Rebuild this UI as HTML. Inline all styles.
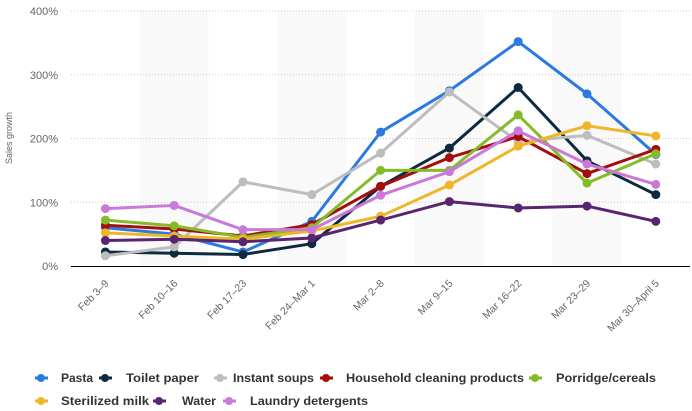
<!DOCTYPE html>
<html><head><meta charset="utf-8"><style>
html,body{margin:0;padding:0;background:#fff;}
svg{display:block;font-family:"Liberation Sans",sans-serif;}
</style></head><body>
<svg id="c" width="692" height="411" xmlns="http://www.w3.org/2000/svg"></svg>
<script>
const s=document.getElementById('c');
let h='';
const X0=71,BW=68.8,Y0=266,K=0.6375;
for(let i=1;i<9;i+=2)h+=`<rect x="${X0+i*BW}" y="11" width="${BW}" height="255" fill="#f9f9f9"/>`;
[0,100,200,300,400].forEach(v=>{const y=Y0-v*K;
 if(v>0)h+=`<line x1="71" x2="690" y1="${y}" y2="${y}" stroke="#ccc" stroke-dasharray="1,2"/>`;
 h+=`<text x="58" y="${y+4}" text-anchor="end" font-size="11" fill="#666">${v}%</text>`;});
h+=`<line x1="71" x2="690" y1="266.5" y2="266.5" stroke="#000" stroke-width="1"/>`;
h+=`<text transform="translate(12,138) rotate(-90)" text-anchor="middle" font-size="9" fill="#666">Sales growth</text>`;
const cats=["Feb 3-9","Feb 10-16","Feb 17-23","Feb 24-Mar 1","Mar 2-8","Mar 9-15","Mar 16-22","Mar 23-29","Mar 30-April 5"];
cats.forEach((c,i)=>{const x=X0+BW*(i+0.5)+4;h+=`<text transform="translate(${x},284) rotate(-45)" text-anchor="end" font-size="10.5" fill="#666">${c.replace('-','–')}</text>`;});
const S=[
["Pasta","#2a7ae2",[60,50,22,70,210,275,352,270,175]],
["Toilet paper","#0d2a3e",[22,20,18,35,125,185,280,165,112]],
["Instant soups","#bdbdbd",[16,30,132,112,177,273,195,205,160]],
["Household cleaning products","#a50d0d",[64,58,47,65,125,170,203,145,183]],
["Porridge/cereals","#83bb29",[72,63,45,60,150,150,237,130,176]],
["Sterilized milk","#f0b62a",[52,47,42,55,78,127,188,220,204]],
["Water","#5a2570",[40,42,38,44,72,101,91,94,70]],
["Laundry detergents","#c97ad9",[90,95,57,57,111,148,212,160,128]]];
S.forEach(([n,c,d])=>{const p=d.map((v,i)=>[X0+BW*(i+0.5),Y0-v*K]);
 h+=`<polyline points="${p.map(q=>q.join(',')).join(' ')}" fill="none" stroke="${c}" stroke-width="3" stroke-linejoin="round"/>`;
 p.forEach(q=>h+=`<circle cx="${q[0]}" cy="${q[1]}" r="4.5" fill="${c}"/>`);});
const L=[[0,41,61,32,378],[1,105,126,73,378],[2,220,233,81,378],[3,326,346,178,378],[4,535,556,100,378],[5,41,61,88,401],[6,159,182,34,401],[7,229,250,118,401]];
L.forEach(([i,x,tx,tw,y])=>{const c=S[i][1];
 h+=`<line x1="${x-6}" x2="${x+7}" y1="${y}" y2="${y}" stroke="${c}" stroke-width="3"/><circle cx="${x}" cy="${y}" r="4" fill="${c}"/>`;
 h+=`<text x="${tx}" y="${y+4}" font-size="11.5" font-weight="bold" fill="#333" textLength="${tw}" lengthAdjust="spacingAndGlyphs">${S[i][0]}</text>`;});
s.innerHTML=h;
</script>
</body></html>
